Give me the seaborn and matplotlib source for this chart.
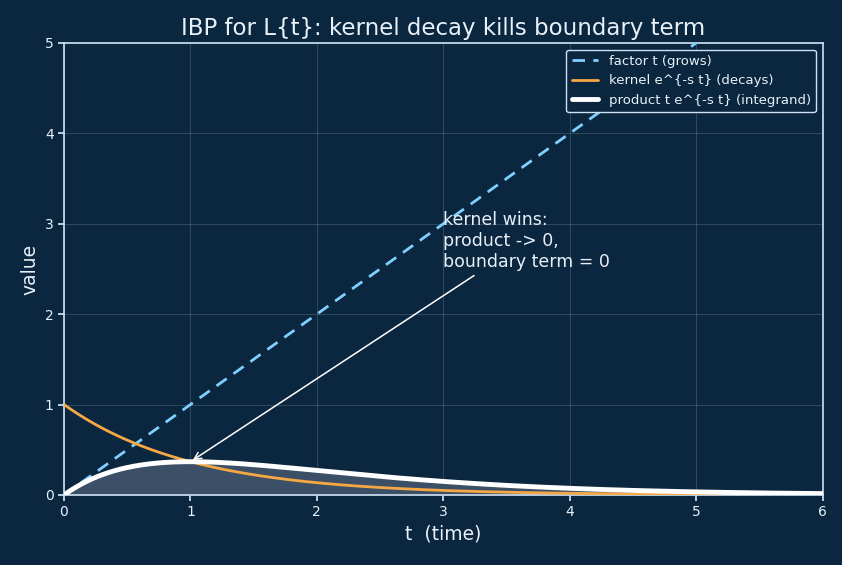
import numpy as np
import pandas as pd
import matplotlib
matplotlib.use("Agg")
import matplotlib.pyplot as plt
import seaborn as sns

# --- data ---
s_rate = 1.0
t_start, t_end, n_pts = 0.0, 6.0, 400
labels = ["factor t (grows)", "kernel e^{-s t} (decays)", "product t e^{-s t} (integrand)"]
x_ticks = [0, 1, 2, 3, 4, 5, 6]
y_ticks = [0, 1, 2, 3, 4, 5]

t = np.linspace(t_start, t_end, n_pts)
factor = t
kernel = np.exp(-s_rate * t)
product = t * kernel

df = pd.DataFrame({"t": t, "factor": factor, "kernel": kernel, "product": product})

BG = "#0b2740"
FG = "#e8f0f8"
SPINE = "#cfe2f3"

sns.set_theme(style="dark")
plt.rcParams["font.family"] = ["DejaVu Sans"]

fig = plt.figure(figsize=(8.42, 5.65), dpi=100, facecolor=BG)
ax = fig.add_axes([0.076, 0.124, 0.901, 0.80])
ax.set_facecolor(BG)

ax.fill_between(df["t"], 0, df["product"], color="#3b4f66", alpha=1.0, zorder=1, linewidth=0)
sns.lineplot(data=df, x="t", y="factor", ax=ax, color="#7fd0ff", lw=2, linestyle=(0, (4.5, 3)), label=labels[0], zorder=3)
sns.lineplot(data=df, x="t", y="kernel", ax=ax, color="#f5a843", lw=2, label=labels[1], zorder=3)
sns.lineplot(data=df, x="t", y="product", ax=ax, color="white", lw=3.5, label=labels[2], zorder=4)

ax.set_xlim(0, 6)
ax.set_ylim(0, 5)
ax.set_xticks(x_ticks)
ax.set_yticks(y_ticks)
ax.grid(True, color="white", alpha=0.15, lw=0.8)
for sp in ax.spines.values():
    sp.set_visible(True)
    sp.set_color(SPINE)
    sp.set_linewidth(1.2)
ax.tick_params(colors=FG, labelsize=10, length=4, color=SPINE, bottom=True, left=True)

ax.set_title("IBP for L{t}: kernel decay kills boundary term", color=FG, fontsize=16.5)
ax.set_xlabel("t  (time)", color=FG, fontsize=13.5)
ax.set_ylabel("value", color=FG, fontsize=13.5)

ax.annotate("kernel wins:\nproduct -> 0,\nboundary term = 0",
            xy=(1.0, float(np.exp(-1))), xytext=(3.0, 2.48),
            color=FG, fontsize=12.5, ha="left", va="bottom",
            arrowprops=dict(arrowstyle="->", color="white", lw=1.1))

leg = ax.legend(loc="upper right", fontsize=9.5, facecolor=BG, edgecolor=SPINE, framealpha=1.0)
for txt in leg.get_texts():
    txt.set_color(FG)

fig.savefig("out.png", dpi=100, facecolor=BG)
